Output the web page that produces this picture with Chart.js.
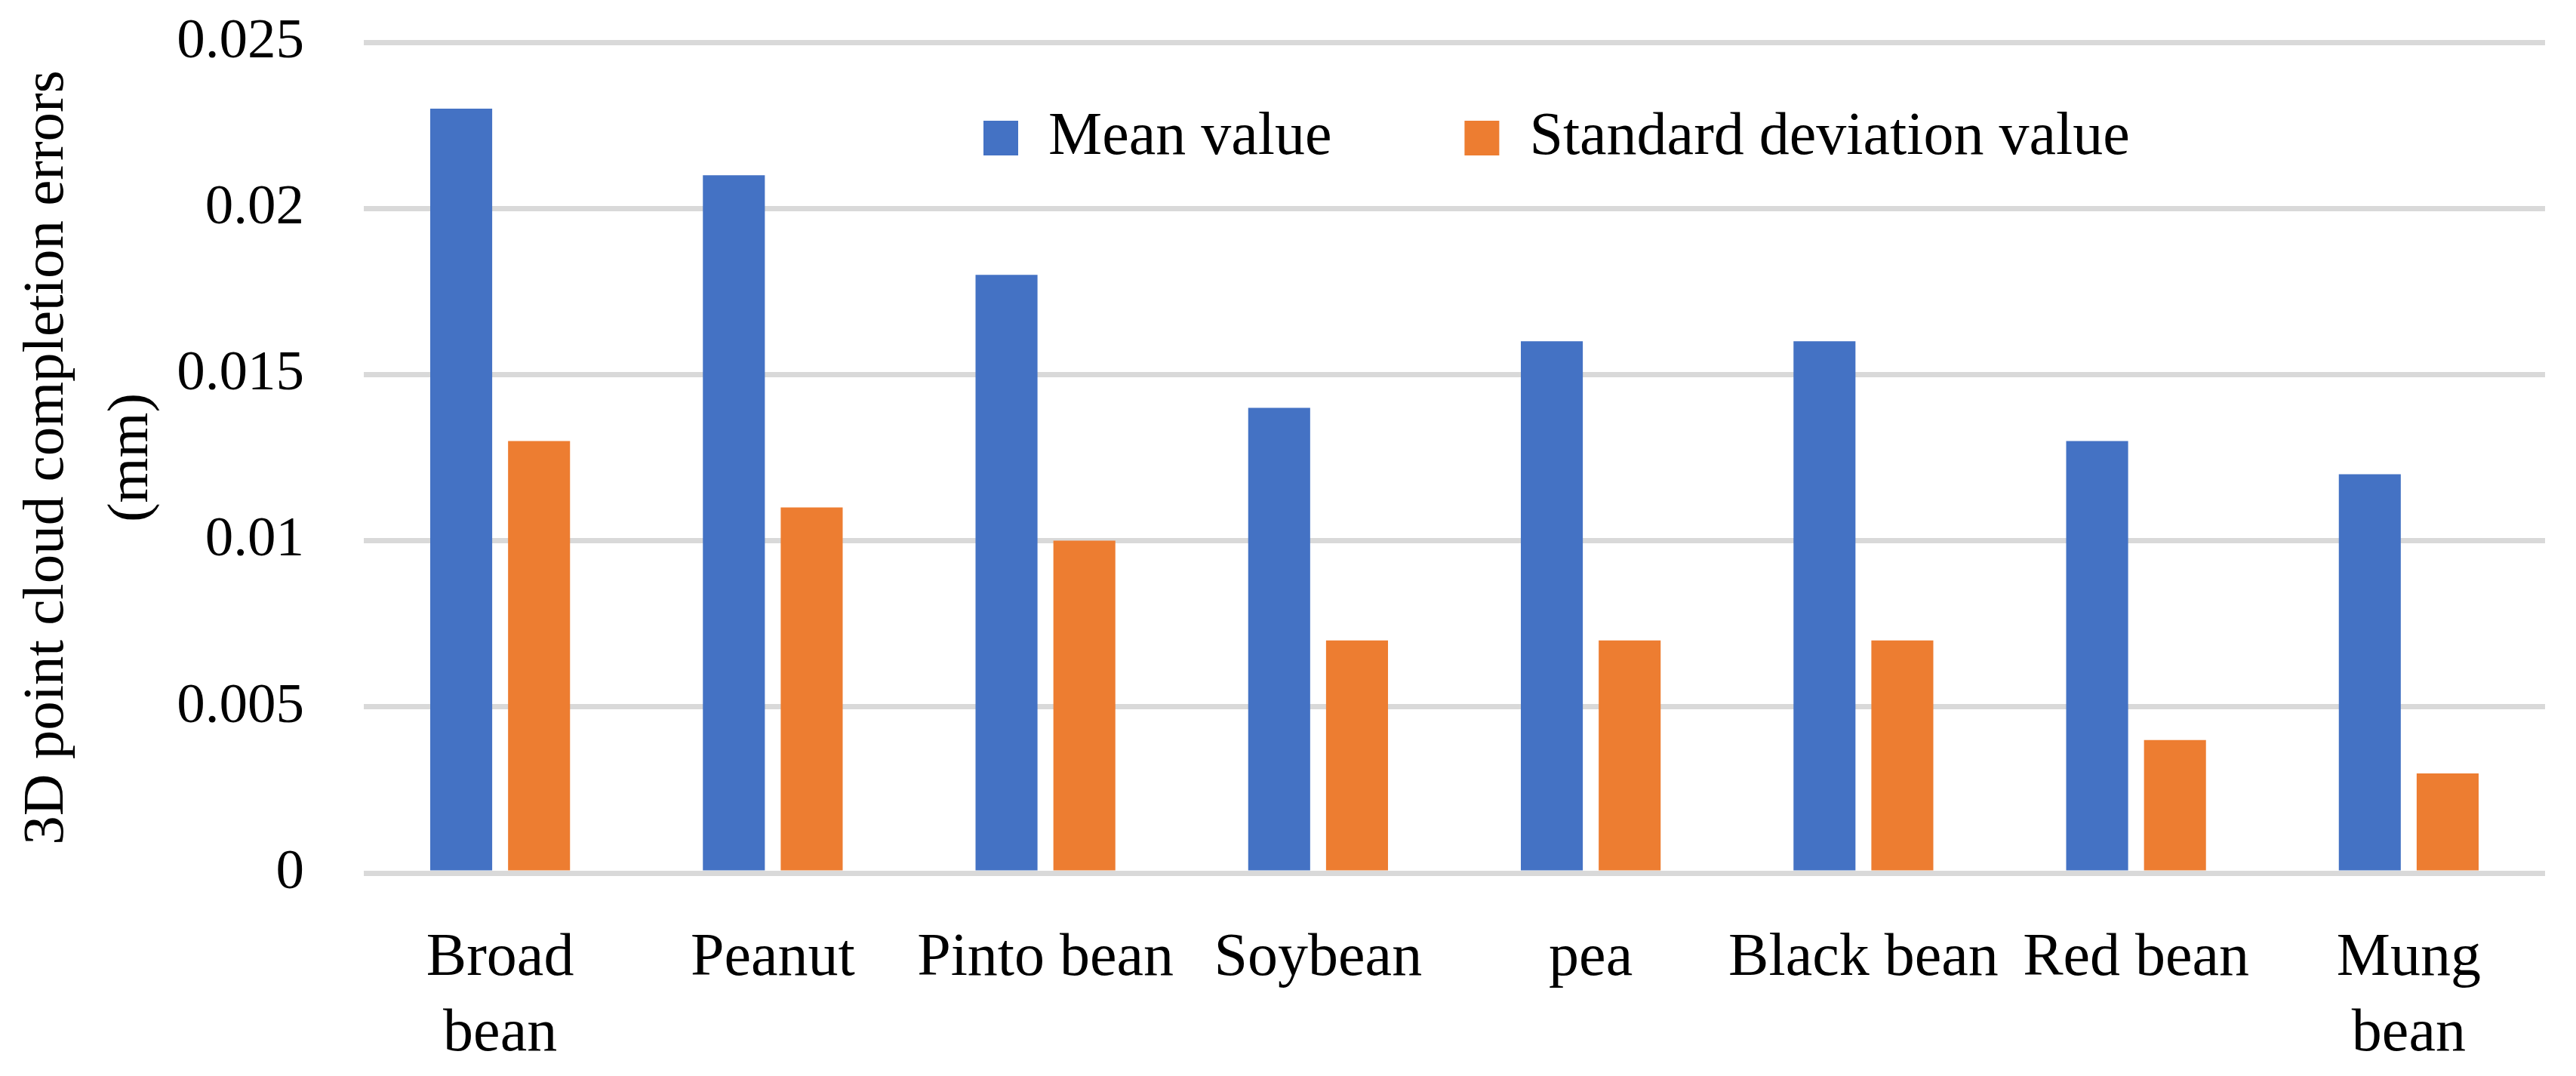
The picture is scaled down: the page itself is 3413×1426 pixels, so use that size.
<!DOCTYPE html>
<html>
<head>
<meta charset="utf-8">
<script src="https://cdn.jsdelivr.net/npm/chart.js@4.4.0/dist/chart.umd.min.js"></script>
<style>
  html, body { margin: 0; padding: 0; background: #fff; }
  #wrap { width: 3413px; height: 1426px; }
</style>
</head>
<body>
<div id="wrap"><canvas id="beanErrors"></canvas></div>
<script>
const categories = [['Broad', 'bean'], 'Peanut', 'Pinto bean', 'Soybean', 'pea', 'Black bean', 'Red bean', ['Mung', 'bean']];
const meanValues = [0.023, 0.021, 0.018, 0.014, 0.016, 0.016, 0.013, 0.012];
const stdValues = [0.013, 0.011, 0.010, 0.007, 0.007, 0.007, 0.004, 0.003];
const yTickLabels = ['0', '0.005', '0.01', '0.015', '0.02', '0.025'];

const serif = "'Palatino Linotype', 'Book Antiqua', Palatino, 'Liberation Serif', serif";
Chart.defaults.color = '#000';
Chart.defaults.font.family = serif;

// legend sits inside the plot, like the Excel original
const legendInPlot = {
    id: 'legendInPlot',
    afterLayout(chart) {
        const lg = chart.legend;
        const area = chart.chartArea;
        const pad = lg.options.labels.padding;
        lg.left = area.left + 821 - pad;
        lg.right = area.right;
        lg.top = area.top + 87 - pad;
        lg.bottom = area.top + 87 + 100;
        lg.width = lg.right - lg.left;
        lg.height = lg.bottom - lg.top;
    }
};

const ctx = document.getElementById('beanErrors').getContext('2d');
const errorChart = new Chart(ctx, {
    type: 'bar',
    data: {
        labels: categories,
        datasets: [{
            label: 'Mean value',
            data: meanValues,
            backgroundColor: '#4472C4',
            borderWidth: 0
        }, {
            label: 'Standard deviation value',
            data: stdValues,
            backgroundColor: '#ED7D31',
            borderWidth: 0
        }]
    },
    options: {
        responsive: true,
        maintainAspectRatio: false,
        animation: false,
        categoryPercentage: 0.571,
        barPercentage: 0.796,
        layout: { padding: { top: 55, right: 41, bottom: 0, left: 0 } },
        plugins: {
            tooltip: { enabled: false },
            legend: {
                position: 'top',
                align: 'start',
                maxHeight: 1,
                labels: {
                    boxWidth: 46,
                    boxHeight: 46,
                    padding: 176,
                    font: { size: 80 }
                }
            }
        },
        scales: {
            x: {
                grid: { display: false },
                border: { display: false },
                ticks: {
                    autoSkip: false,
                    maxRotation: 0,
                    padding: 56,
                    font: { size: 80, lineHeight: 1.25 }
                },
                afterFit: (scale) => { scale.height = 269; }
            },
            y: {
                min: 0,
                max: 0.025,
                grid: { color: '#D9D9D9', lineWidth: 7, drawTicks: false },
                border: { display: false },
                ticks: {
                    stepSize: 0.005,
                    padding: 79,
                    font: { size: 75 },
                    callback: (value, index) => yTickLabels[index]
                },
                title: {
                    display: true,
                    text: ['3D point cloud completion errors', '(mm)'],
                    padding: { top: 7, bottom: 0 },
                    font: { size: 77, lineHeight: 1.45 }
                },
                afterFit: (scale) => {
                    scale.width = 482;
                    scale.paddingTop = 0;
                    scale.paddingBottom = 0;
                }
            }
        }
    },
    plugins: [legendInPlot]
});
</script>
</body>
</html>
